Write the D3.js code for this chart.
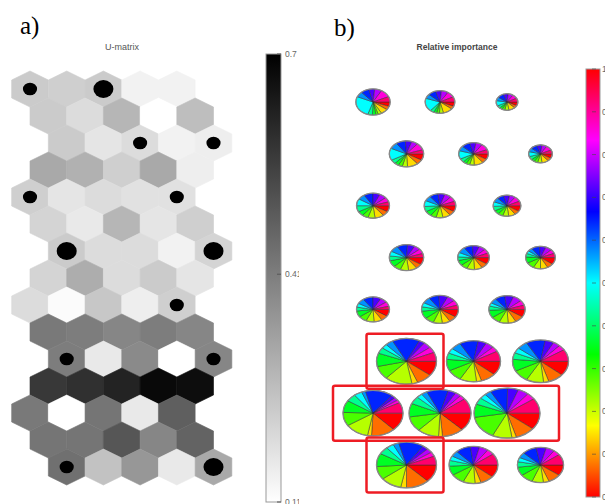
<!DOCTYPE html>
<html>
<head>
<meta charset="utf-8">
<script src="https://cdn.jsdelivr.net/npm/d3@7"></script>
<style>
  body { margin: 0; background: #fff; }
  svg { display: block; }
</style>
</head>
<body>
<svg width="605" height="504"></svg>
<script>
// U-matrix: 15 rows x 5 columns (map of 3 x 8 units)
var umatrix = [
    [0.23, 0.22, 0.23, 0.14, 0.14],
    [0.23, 0.19, 0.28, 0.10, 0.26],
    [0.23, 0.17, 0.19, 0.14, 0.15],
    [0.31, 0.29, 0.22, 0.31, 0.15],
    [0.22, 0.17, 0.19, 0.18, 0.18],
    [0.21, 0.16, 0.28, 0.17, 0.22],
    [0.23, 0.19, 0.19, 0.14, 0.21],
    [0.21, 0.30, 0.19, 0.23, 0.17],
    [0.19, 0.12, 0.24, 0.15, 0.22],
    [0.42, 0.41, 0.39, 0.41, 0.39],
    [0.41, 0.16, 0.38, 0.10, 0.39],
    [0.57, 0.59, 0.62, 0.68, 0.67],
    [0.42, 0.10, 0.43, 0.16, 0.48],
    [0.43, 0.43, 0.50, 0.39, 0.47],
    [0.44, 0.25, 0.35, 0.16, 0.31]
];

// hits per map unit (8 rows x 3 cols)
var unitHits = [
    [1, 2, 0],
    [0, 1, 1],
    [1, 0, 1],
    [2, 0, 2],
    [0, 0, 1],
    [1, 0, 1],
    [0, 0, 0],
    [1, 0, 2]
];

var uTicks = [0.11, 0.41, 0.7];
var impTicks = [0, 0.1, 0.2, 0.3, 0.4, 0.5, 0.6, 0.7, 0.8, 0.9, 1];

// relative size of each pie (row by row, 3 per row)
var pieSize = [
    0.52, 0.45, 0.33,
    0.52, 0.45, 0.36,
    0.50, 0.48, 0.42,
    0.52, 0.48, 0.45,
    0.50, 0.56, 0.55,
    0.91, 0.82, 0.85,
    0.91, 0.94, 1.00,
    0.91, 0.74, 0.70
];

// share of each of the 14 variables in each pie
var pieShares = [
    [5, 4, 6, 3, 2, 3, 4, 24, 6, 7, 5, 6, 9, 6],
    [6, 4, 10, 4, 3, 3, 4, 18, 6, 8, 6, 7, 8, 7],
    [7, 5, 9, 6, 4, 4, 5, 10, 7, 9, 7, 7, 8, 7],
    [8, 6, 10, 5, 4, 4, 5, 15, 8, 9, 6, 6, 9, 5],
    [8, 6, 10, 5, 4, 4, 5, 12, 7, 9, 7, 7, 9, 6],
    [8, 6, 9, 6, 5, 5, 6, 9, 7, 9, 7, 7, 9, 7],
    [8, 6, 9, 7, 6, 6, 8, 9, 7, 9, 7, 7, 6, 5],
    [8, 6, 8, 7, 6, 7, 7, 8, 7, 9, 7, 7, 7, 6],
    [9, 6, 8, 7, 6, 6, 7, 7, 7, 8, 7, 7, 8, 7],
    [9, 6, 8, 8, 7, 8, 6, 6, 8, 10, 7, 6, 6, 5],
    [9, 7, 8, 8, 7, 7, 5, 6, 8, 9, 7, 7, 6, 6],
    [10, 7, 8, 8, 9, 9, 5, 4, 5, 9, 7, 7, 6, 6],
    [9, 7, 8, 8, 8, 8, 5, 5, 7, 10, 8, 7, 6, 4],
    [9, 7, 7, 8, 8, 9, 5, 5, 7, 9, 8, 7, 6, 5],
    [9, 8, 7, 8, 8, 9, 5, 4, 6, 9, 8, 8, 6, 5],
    [10, 8, 3, 14, 9, 9, 4, 3, 4, 14, 3, 4, 4, 6],
    [11, 9, 3, 10, 9, 9, 5, 4, 6, 11, 5, 5, 4, 8],
    [11, 9, 3, 10, 9, 9, 5, 4, 6, 11, 5, 4, 4, 9],
    [12, 12, 2, 12, 9, 8, 5, 4, 2, 14, 2, 2, 2, 7],
    [12, 11, 2, 11, 10, 9, 5, 3, 3, 11, 4, 3, 3, 10],
    [10, 9, 2, 9, 14, 8, 4, 3, 3, 8, 5, 5, 4, 9],
    [12, 12, 3, 11, 9, 9, 5, 4, 3, 13, 3, 3, 3, 6],
    [11, 9, 4, 8, 9, 8, 5, 4, 5, 10, 6, 6, 5, 10],
    [10, 9, 4, 8, 9, 8, 5, 4, 5, 10, 7, 6, 5, 10]
];

// highlighted groups (pie row, first col, last col)
var highlight = [[5, 0, 0], [7, 0, 0], [6, 0, 2]];

var svg = d3.select("svg");
var defs = svg.append("defs");

// ---------- panel a) ----------
defs.append("clipPath").attr("id", "clipA")
    .append("rect").attr("x", 0).attr("y", 0).attr("width", 299).attr("height", 504);
var left = svg.append("g").attr("clip-path", "url(#clipA)");

var xU = d3.scaleLinear().domain([0, 4]).range([30, 176.8]);
var yU = d3.scaleLinear().domain([0, 14]).range([89, 467]);
var grey = d3.scaleLinear().domain([uTicks[0], uTicks[2]]).range(["#fff", "#000"]).clamp(true);
var shiftU = [0, 0.5, 1, 0.5];
var hw = (xU(1) - xU(0)) / 2, hr = (yU(1) - yU(0)) / 1.5;
var hexPts = [[0, -hr], [hw, -hr / 2], [hw, hr / 2], [0, hr], [-hw, hr / 2], [-hw, -hr / 2]];

var cells = [];
umatrix.forEach(function (row, i) {
    row.forEach(function (v, j) { cells.push({i: i, j: j, v: v}); });
});

left.selectAll(".hex")
    .data(cells)
    .enter().append("path")
    .attr("class", "hex")
    .attr("d", "M" + hexPts.join("L") + "Z")
    .attr("transform", function (d) {
        return "translate(" + xU(d.j + shiftU[d.i % 4]) + "," + yU(d.i) + ")";
    })
    .attr("fill", function (d) { return grey(d.v); })
    .attr("stroke", function (d) { return grey(d.v); })
    .attr("stroke-width", 0.6);

// hit markers
var rDot = d3.scaleSqrt().domain([0, 2]).range([0, 10]);
var hits = [];
unitHits.forEach(function (row, i) {
    row.forEach(function (h, j) { if (h > 0) hits.push({i: i * 2, j: j * 2, h: h}); });
});
left.selectAll(".hit")
    .data(hits)
    .enter().append("ellipse")
    .attr("class", "hit")
    .attr("cx", function (d) { return xU(d.j + shiftU[d.i % 4]); })
    .attr("cy", function (d) { return yU(d.i); })
    .attr("rx", function (d) { return rDot(d.h); })
    .attr("ry", function (d) { return rDot(d.h) * 0.9; })
    .attr("fill", "#000");

// grey colorbar
var yCbA = d3.scaleLinear().domain([uTicks[0], uTicks[2]]).range([502, 54]);
var gA = defs.append("linearGradient").attr("id", "gradA")
    .attr("x1", 0).attr("y1", 1).attr("x2", 0).attr("y2", 0);
gA.append("stop").attr("offset", "0%").attr("stop-color", "#fff");
gA.append("stop").attr("offset", "100%").attr("stop-color", "#000");
left.append("rect")
    .attr("x", 266).attr("y", yCbA(uTicks[2]))
    .attr("width", 15).attr("height", yCbA(uTicks[0]) - yCbA(uTicks[2]))
    .attr("fill", "url(#gradA)").attr("stroke", "#999").attr("stroke-width", 1);
left.selectAll(".tickA")
    .data(uTicks)
    .enter().append("line")
    .attr("x1", 277).attr("x2", 281)
    .attr("y1", function (d) { return yCbA(d); })
    .attr("y2", function (d) { return yCbA(d); })
    .attr("stroke", "#555").attr("stroke-width", 1);
left.selectAll(".labA")
    .data(uTicks)
    .enter().append("text")
    .attr("x", 285)
    .attr("y", function (d) { return yCbA(d) + 3; })
    .attr("font-family", "Liberation Sans, Arial, sans-serif")
    .attr("font-size", 8.5)
    .attr("fill", "#666")
    .text(function (d) { return d; });

left.append("text")
    .attr("x", 122).attr("y", 50)
    .attr("text-anchor", "middle")
    .attr("font-family", "Liberation Sans, Arial, sans-serif")
    .attr("font-size", 9)
    .attr("fill", "#555")
    .text("U-matrix");

svg.append("text")
    .attr("x", 20).attr("y", 34)
    .attr("font-family", "Liberation Serif, Times New Roman, serif")
    .attr("font-size", 25)
    .attr("fill", "#000")
    .text("a)");

// ---------- panel b) ----------
svg.append("text")
    .attr("x", 334).attr("y", 36)
    .attr("font-family", "Liberation Serif, Times New Roman, serif")
    .attr("font-size", 25)
    .attr("fill", "#000")
    .text("b)");

svg.append("text")
    .attr("x", 457).attr("y", 50)
    .attr("text-anchor", "middle")
    .attr("font-family", "Liberation Sans, Arial, sans-serif")
    .attr("font-size", 8.5)
    .attr("font-weight", "bold")
    .attr("fill", "#444")
    .text("Relative importance");

var xPie = d3.scaleLinear().domain([0, 2]).range([373, 507]);
var yPie = d3.scaleLinear().domain([0, 7]).range([102, 465]);
var rPie = d3.scaleLinear().domain([0, 1]).range([0, 33]);
var nVar = pieShares[0].length;
var hue = function (t) { return d3.hsl(t * 360, 1, 0.5) + ""; };
var pie = d3.pie().sort(null).startAngle(Math.PI / 2).endAngle(Math.PI / 2 + 2 * Math.PI);
var squash = 0.76;

var pies = pieShares.map(function (s, k) {
    var r = Math.floor(k / 3), c = k % 3;
    return {r: r, c: c, shares: s, size: pieSize[k],
        x: xPie(c + (r % 2) * 0.5), y: yPie(r)};
});

var pg = svg.selectAll(".pie")
    .data(pies)
    .enter().append("g")
    .attr("class", "pie")
    .attr("transform", function (d) {
        return "translate(" + d.x + "," + d.y + ") scale(1," + squash + ")";
    });

pg.each(function (d) {
    var arc = d3.arc().innerRadius(0).outerRadius(rPie(d.size));
    d3.select(this).selectAll("path")
        .data(pie(d.shares))
        .enter().append("path")
        .attr("d", arc)
        .attr("fill", function (p) { return hue(p.index / nVar); })
        .attr("stroke", "#333")
        .attr("stroke-width", 0.5)
        .attr("vector-effect", "non-scaling-stroke");
});
pg.append("circle")
    .attr("r", function (d) { return rPie(d.size); })
    .attr("fill", "none")
    .attr("stroke", "#888")
    .attr("stroke-width", 1.3)
    .attr("vector-effect", "non-scaling-stroke");

// red highlight boxes
var rowStep = yPie(1) - yPie(0);
svg.selectAll(".hl")
    .data(highlight)
    .enter().append("rect")
    .attr("class", "hl")
    .attr("x", function (d) { return xPie(d[1] + (d[0] % 2) * 0.5) - 40; })
    .attr("y", function (d) { return yPie(d[0]) - rowStep * 0.53; })
    .attr("width", function (d) {
        return xPie(d[2]) - xPie(d[1]) + 77 + 7.5 * (d[2] - d[1]);
    })
    .attr("height", rowStep * 1.06)
    .attr("rx", 2)
    .attr("fill", "none")
    .attr("stroke", "#ee1c24")
    .attr("stroke-width", 2.5);

// hsv colorbar
var yCbB = d3.scaleLinear().domain([0, 1]).range([497, 69]);
var gB = defs.append("linearGradient").attr("id", "gradB")
    .attr("x1", 0).attr("y1", 1).attr("x2", 0).attr("y2", 0);
d3.range(0, 13).forEach(function (i) {
    gB.append("stop").attr("offset", (i / 12 * 100) + "%").attr("stop-color", hue(i / 12));
});
svg.append("rect")
    .attr("x", 586).attr("y", yCbB(1))
    .attr("width", 14).attr("height", yCbB(0) - yCbB(1))
    .attr("fill", "url(#gradB)").attr("stroke", "#999").attr("stroke-width", 1);
svg.selectAll(".tickB")
    .data(impTicks)
    .enter().append("line")
    .attr("x1", 592).attr("x2", 596)
    .attr("y1", function (d) { return yCbB(d); })
    .attr("y2", function (d) { return yCbB(d); })
    .attr("stroke", "#444").attr("stroke-opacity", 0.6).attr("stroke-width", 1);
svg.selectAll(".labB")
    .data(impTicks)
    .enter().append("text")
    .attr("x", 602)
    .attr("y", function (d) { return yCbB(d) + 3; })
    .attr("font-family", "Liberation Sans, Arial, sans-serif")
    .attr("font-size", 8.5)
    .attr("fill", "#666")
    .text(function (d) { return d; });
</script>
</body>
</html>
